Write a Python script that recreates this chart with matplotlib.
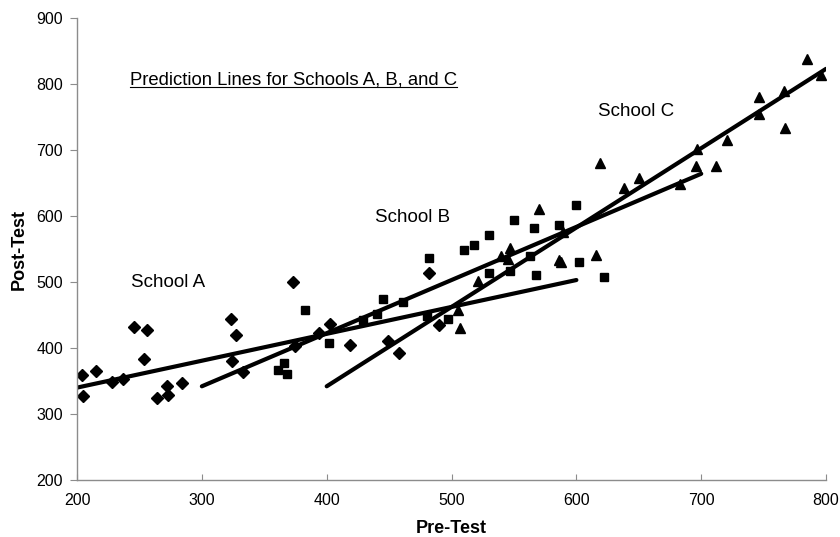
import matplotlib
matplotlib.use("Agg")
import matplotlib.pyplot as plt

plt.rcParams['font.family'] = ['Liberation Sans', 'DejaVu Sans']

# School A (diamonds)
a_pre = [204, 204.5, 215, 228, 237, 246, 256, 254, 264, 272, 273, 284, 323, 327,
         324, 333, 373, 375, 394, 403, 419, 449, 458, 482, 490]
a_post = [359, 328, 365, 349, 353, 432, 428, 384, 325, 342, 329, 347, 444, 420,
          380, 363, 500, 403, 422, 437, 405, 411, 392, 513, 435]

# School B (squares)
b_pre = [361, 366, 368, 383, 402, 429, 440, 445, 461, 480, 482, 497, 510, 518,
         530, 530, 547, 550, 563, 566, 568, 586, 600, 602, 622]
b_post = [366, 377, 360, 458, 408, 442, 452, 475, 470, 449, 536, 444, 548, 556,
          571, 514, 516, 594, 540, 582, 510, 587, 617, 531, 507]

# School C (triangles)
c_pre = [505, 507, 521, 540, 545, 547, 570, 586, 588, 589, 616, 619, 638, 650,
         683, 696, 697, 712, 721, 746, 746, 766, 767, 785, 796]
c_post = [457, 431, 501, 540, 535, 551, 611, 533, 531, 576, 541, 681, 642, 657,
          649, 676, 701, 676, 715, 780, 755, 790, 733, 838, 814]

# prediction lines (end points)
line_a_x, line_a_y = [200, 600], [340, 503]
line_b_x, line_b_y = [300, 700], [342, 664]
line_c_x, line_c_y = [400, 800], [342, 823]

x_ticks = [200, 300, 400, 500, 600, 700, 800]
y_ticks = [200, 300, 400, 500, 600, 700, 800, 900]

fig = plt.figure(figsize=(8.4, 5.37), dpi=100)
ax = fig.add_axes([0.0917, 0.1061, 0.8917, 0.8604])

ax.plot(a_pre, a_post, 'D', color='black', markersize=6, linestyle='none')
ax.plot(b_pre, b_post, 's', color='black', markersize=6, linestyle='none')
ax.plot(c_pre, c_post, '^', color='black', markersize=7, linestyle='none')

ax.plot(line_a_x, line_a_y, color='black', lw=3, solid_capstyle='round')
ax.plot(line_b_x, line_b_y, color='black', lw=3, solid_capstyle='round')
ax.plot(line_c_x, line_c_y, color='black', lw=3, solid_capstyle='round')

ax.set_xlim(200, 800)
ax.set_ylim(200, 900)
ax.set_xticks(x_ticks)
ax.set_yticks(y_ticks)

for s in ['top', 'right']:
    ax.spines[s].set_visible(False)
for s in ['left', 'bottom']:
    ax.spines[s].set_color('#8c8c8c')
    ax.spines[s].set_linewidth(1)

ax.tick_params(axis='y', direction='out', length=5, color='#8c8c8c',
               labelsize=11.5, pad=5)
ax.tick_params(axis='x', direction='in', length=4, color='#8c8c8c',
               labelsize=11.5, pad=9)

ax.set_xlabel('Pre-Test', fontsize=13, fontweight='bold', labelpad=9)
ax.set_ylabel('Post-Test', fontsize=13, fontweight='bold', labelpad=6)

ax.text(243, 499, 'School A', fontsize=13.5, va='center', ha='left')
ax.text(439, 597, 'School B', fontsize=13.5, va='center', ha='left')
ax.text(617, 759, 'School C', fontsize=13.5, va='center', ha='left')

title = ax.text(242.5, 806, 'Prediction Lines for Schools A, B, and C',
                fontsize=13.3, va='center', ha='left')

# underline the title
fig.canvas.draw()
bb = title.get_window_extent().transformed(ax.transAxes.inverted())
ax.plot([bb.x0, bb.x1], [bb.y0 + 0.004, bb.y0 + 0.004], color='black', lw=0.8,
        transform=ax.transAxes, clip_on=False)

fig.savefig('out.png', dpi=100)
